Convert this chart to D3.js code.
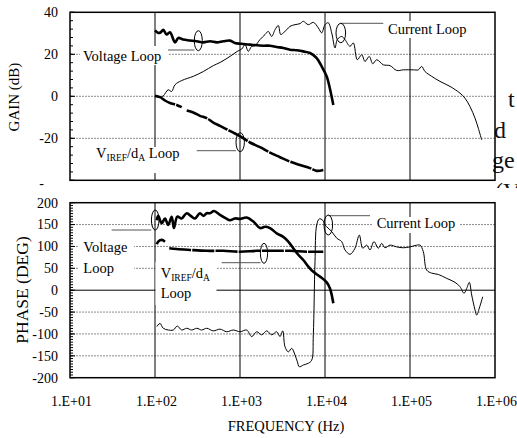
<!DOCTYPE html>
<html>
<head>
<meta charset="utf-8">
<script src="https://cdn.jsdelivr.net/npm/d3@7"></script>
<style>
  body { margin: 0; background: #fff; }
  svg { display: block; font-family: 'Liberation Serif', 'Times New Roman', serif; }
  text { white-space: pre; }
</style>
</head>
<body>
<svg id="chart" width="517" height="438"></svg>
<script>
// axis ticks
const freqTicks = [1e1, 1e2, 1e3, 1e4, 1e5, 1e6];
const freqTickLabels = ['1.E+01', '1.E+02', '1.E+03', '1.E+04', '1.E+05', '1.E+06'];
const gainTicks = [-40, -20, 0, 20, 40];
const gainTickLabels = ['-', '-20', '0', '20', '40'];
const phaseTicks = [-200, -150, -100, -50, 0, 50, 100, 150, 200];
const phaseTickLabels = ['-200', '-150', '-100', '-50', '0', '50', '100', '150', '200'];

// gain (dB)
const voltageGainFreq = [100, 109, 117, 125, 137, 150, 172, 188, 215, 258, 310, 370, 444, 532, 637, 763, 873, 1020, 1312, 1880, 2254, 2703, 3230, 3873, 4645, 5560, 6665, 7985, 9140, 10470, 11450, 12530];
const voltageGain = [31.4, 30.2, 30.5, 31.7, 29.4, 30.5, 25.7, 27.8, 27, 26.6, 26.2, 25.7, 26.2, 25.7, 26.2, 26.5, 25.4, 25, 24.6, 24.1, 24.1, 23.5, 23, 22.2, 21.9, 21.4, 20.6, 18.2, 14.2, 9.5, 3.5, -4.1];

const currentGainFreq = [100, 114.5, 125, 143, 157, 172, 206, 282, 370, 485, 582, 763, 929, 1047, 1145, 1252, 1373, 1502, 1719, 1969, 2152, 2360, 2581, 2822, 3012, 3231, 3543, 3874, 4437, 5081, 5555, 6362, 7286, 8340, 9147, 10000, 10935, 11990, 13115, 13951, 15725, 17190, 19688, 21530, 23988, 27030, 29560, 33200, 36410, 40580, 48530, 58180, 69750, 83400, 109350, 125200, 137300, 150200, 180000, 225400, 295600, 387400, 443700, 508100, 581800, 636200, 697500];
const currentGain = [0, -0.4, 0.2, 3.1, 2.3, 5.5, 7.5, 9.5, 11.8, 14.6, 16.1, 19, 21.4, 22.5, 24.6, 21.4, 23.8, 24.1, 27, 29.4, 30.9, 28.5, 31.7, 33.7, 29.4, 30.2, 31.7, 33.3, 34.1, 34.6, 35.7, 34.1, 35.2, 32.6, 30.2, 34.1, 35, 30.2, 23, 27, 28.5, 27, 23.8, 25.4, 17.4, 19.8, 16.6, 19, 15.5, 17.4, 15, 14.6, 12.3, 12.6, 12.6, 12.6, 14.2, 11.8, 9.5, 7.1, 4.7, 1.5, -0.9, -4.9, -10.4, -15.2, -20.8];

const vrefGainFreq = [100, 114.5, 131, 150, 180, 206, 220, 236, 282, 338, 406, 485, 582, 697, 834, 1019, 1311, 1719, 2254, 2956, 3874, 5081, 6661, 7987, 9550];
const vrefGain = [0.2, -0.4, -2, -3.2, -4.1, -5.2, null, -6.8, -7.7, -9.3, -10.4, -12.5, -14.1, -15.7, -17.3, -19.2, -22, -24.2, -26.8, -29, -31.1, -32.7, -34.2, -35.5, -35.1];

// phase (deg)
const voltagePhaseFreq = [105, 109, 120, 131, 143, 157, 167, 183, 206, 236, 270, 296, 338, 370, 406, 444, 495, 582, 684, 763, 873, 1000, 1199, 1434, 1719, 1969, 2254, 2703, 3231, 3700, 4237, 4852, 5555, 6362, 7286, 8736, 10470, 11450, 12530];
const voltagePhase = [160, 170, 153, 164, 149, 168, 142, 168, 164, 176, 168, 164, 176, 170, 176, 176, 181, 172, 164, 160, 164, 163, 166, 157, 142, 145, 142, 130, 122, 111, 96, 81, 69, 54, 42, 31, 18, 4, -30];

const vrefPhaseFreq = [105, 109, 120, 131, 140, 147, 180, 258, 406, 636, 1000, 1572, 2465, 3874, 6090, 9550];
const vrefPhase = [105, 111, 115, 111, null, 96, 94, 92, 90, 90, 88, 90, 90, 90, 88, 88];

const currentPhaseFreq = [105, 114.5, 125, 143, 164, 183, 206, 236, 270, 310, 354, 406, 485, 582, 697, 834, 1000, 1199, 1373, 1572, 1800, 2062, 2360, 2703, 2956, 3180, 3383, 3700, 4057, 4437, 4722, 4985, 5555, 6362, 6975, 7286, 7627, 7987, 8568, 9395, 10000, 10470, 11990, 13730, 15725, 17190, 19688, 22540, 25320, 27770, 30950, 33830, 37710, 42370, 46470, 50810, 58180, 69750, 83400, 100000, 114500, 131100, 143400, 157200, 180000, 215200, 270300, 338300, 387400, 431900, 464700, 498400, 531900, 581800, 609000, 653600, 716800];
const currentPhase = [-83, -76, -87, -91, -91, -82, -91, -87, -91, -87, -91, -87, -93, -89, -95, -91, -95, -91, -106, -95, -102, -93, -102, -95, -106, -93, -129, -141, -133, -148, -163, -175, -171, -167, -160, -102, 65, 149, 163, 160, 149, 145, 134, 119, 111, 92, 82, 96, 126, 96, 103, 92, 111, 96, 107, 97, 103, 99, 97, 99, 102, 103, 88, 46, 39, 36, 27, 18, 8, -7, 4, 18, -11, -45, -57, -41, -15];

const zip = (f, v) => f.map((d, i) => [d, v[i]]);

const svg = d3.select('#chart');
const W = 517, H = 438;
const left = 70, right = 495;

const x = d3.scaleLog().domain([1e1, 1e6]).range([left, right]);
const yGain = d3.scaleLinear().domain([-40, 40]).range([180.3, 12.3]);
const yPhase = d3.scaleLinear().domain([-200, 200]).range([377.7, 202.7]);

// text of the page lying under the figure
const pageBits = [
    { t: 't', x: 508, y: 107 },
    { t: 'd', x: 494, y: 137.5 },
    { t: 'ge', x: 492, y: 168 },
    { t: '(V', x: 495, y: 198.5 }
];
svg.selectAll('.page').data(pageBits).enter()
    .append('text')
    .classed('page', true)
    .attr('x', d => d.x)
    .attr('y', d => d.y)
    .attr('font-size', 24)
    .attr('fill', '#111')
    .text(d => d.t);

// white sheet of lower chart
svg.append('rect')
    .attr('x', 0).attr('y', 188)
    .attr('width', W).attr('height', H - 188)
    .attr('fill', '#fff');

function drawPanel(y, ticks, labels, minorStep, solidZero) {
    const g = svg.append('g');
    const [y0, y1] = y.range();

    // horizontal grid
    g.selectAll('.hgrid')
        .data(ticks.slice(1, -1)).enter()
        .append('line')
        .attr('x1', left).attr('x2', right)
        .attr('y1', d => y(d)).attr('y2', d => y(d))
        .attr('stroke', d => (solidZero && d === 0) ? '#000' : '#8c8c8c')
        .attr('stroke-width', 1)
        .attr('stroke-dasharray', d => (solidZero && d === 0) ? null : '2,1');

    // decade lines
    g.selectAll('.vgrid')
        .data(freqTicks.slice(1, -1)).enter()
        .append('line')
        .attr('x1', d => x(d)).attr('x2', d => x(d))
        .attr('y1', y1).attr('y2', y0)
        .attr('stroke', '#000')
        .attr('stroke-width', 1);

    // minor ticks on the value axis
    g.selectAll('.minor')
        .data(d3.range(y.domain()[0], y.domain()[1] + 0.01, minorStep)).enter()
        .append('line')
        .attr('x1', left).attr('x2', left + 3)
        .attr('y1', d => y(d)).attr('y2', d => y(d))
        .attr('stroke', '#000');
    g.selectAll('.major')
        .data(ticks).enter()
        .append('line')
        .attr('x1', left).attr('x2', left + 5)
        .attr('y1', d => y(d)).attr('y2', d => y(d))
        .attr('stroke', '#000');

    g.selectAll('.ylab')
        .data(ticks).enter()
        .append('text')
        .attr('x', (d, i) => labels[i] === '-' ? 44 : 58)
        .attr('y', d => y(d))
        .attr('dy', (d, i) => labels[i] === '-' ? '0.55em' : '0.35em')
        .attr('text-anchor', 'end')
        .attr('font-size', 14)
        .text((d, i) => labels[i]);

    return g;
}

function drawSeries(g, y, data, width, dash) {
    const line = d3.line()
        .defined(d => d[1] !== null)
        .x(d => x(d[0]))
        .y(d => y(d[1]))
        .curve(d3.curveCatmullRom.alpha(0.5));
    g.append('path')
        .datum(data)
        .attr('d', line)
        .attr('fill', 'none')
        .attr('stroke', '#000')
        .attr('stroke-width', width)
        .attr('stroke-linejoin', 'round')
        .attr('stroke-dasharray', dash || null);
}

function drawFrame(g, y) {
    const [y0, y1] = y.range();
    g.append('rect')
        .attr('x', left).attr('y', y1)
        .attr('width', right - left).attr('height', y0 - y1)
        .attr('fill', 'none')
        .attr('stroke', '#000')
        .attr('stroke-width', 1.5);
}

// callouts: label box, leader and ring
const V_REF = [['V'], ['IREF', 1], ['/d'], ['A', 1]];
const notes = [
    { lines: [{ x: 83, y: 60.7, parts: [['Voltage Loop']] }], box: [80, 46, 88, 19], leader: [168, 50, 194.5, 50], ring: [198.3, 40.7, 4, 10] },
    { lines: [{ x: 96, y: 158.3, parts: V_REF.concat([[' Loop']]) }], box: [89, 147, 96, 26], leader: [196.7, 150.7, 236, 150.7], ring: [240.2, 142.2, 4.2, 9.5] },
    { lines: [{ x: 388, y: 33.7, parts: [['Current Loop']] }], box: [385, 21, 86, 17], leader: [340.5, 23.3, 383.3, 23.3], ring: [340.8, 33, 4.8, 9.7] },
    { lines: [{ x: 83.3, y: 251.7, parts: [['Voltage']] }, { x: 83.3, y: 273.3, parts: [['Loop']] }], box: [79, 236, 55, 43], leader: [111.7, 230, 151.3, 230], ring: [155.2, 220, 3.8, 10] },
    { lines: [{ x: 160.7, y: 278.3, parts: V_REF }, { x: 160.7, y: 298.3, parts: [['Loop']] }], box: [155.5, 262, 61, 43], leader: [221.7, 262.7, 260.5, 262.7], ring: [264, 253.3, 3.6, 10] },
    { lines: [{ x: 376.7, y: 228.3, parts: [['Current Loop']] }], box: [373, 217, 86, 16], leader: [328.3, 215.7, 370, 215.7], ring: [328.3, 225, 4.3, 10] }
];

function drawNote(n) {
    const g = svg.append('g');
    g.append('rect')
        .attr('x', n.box[0]).attr('y', n.box[1])
        .attr('width', n.box[2]).attr('height', n.box[3])
        .attr('fill', '#fff');
    g.append('line')
        .attr('x1', n.leader[0]).attr('y1', n.leader[1])
        .attr('x2', n.leader[2]).attr('y2', n.leader[3])
        .attr('stroke', '#555')
        .attr('stroke-width', 1);
    g.append('ellipse')
        .attr('cx', n.ring[0]).attr('cy', n.ring[1])
        .attr('rx', n.ring[2]).attr('ry', n.ring[3])
        .attr('fill', 'none')
        .attr('stroke', '#000')
        .attr('stroke-width', 1);
    n.lines.forEach(l => {
        const t = g.append('text')
            .attr('x', l.x).attr('y', l.y)
            .attr('font-size', 14.5);
        let shifted = false;
        l.parts.forEach(p => {
            const s = t.append('tspan').text(p[0]);
            if (p[1]) {
                s.attr('font-size', 9.5).attr('dy', shifted ? 0 : 3);
                shifted = true;
            } else {
                s.attr('dy', shifted ? -3 : 0);
                shifted = false;
            }
        });
    });
}

// gain panel
const gTop = drawPanel(yGain, gainTicks, gainTickLabels, 4, false);
drawSeries(gTop, yGain, zip(currentGainFreq, currentGain), 1);
drawSeries(gTop, yGain, zip(vrefGainFreq, vrefGain), 2.6, '22,1.2');
drawSeries(gTop, yGain, zip(voltageGainFreq, voltageGain), 2.6);
drawFrame(gTop, yGain);

// phase panel
const gBot = drawPanel(yPhase, phaseTicks, phaseTickLabels, 6.25, true);
drawSeries(gBot, yPhase, zip(currentPhaseFreq, currentPhase), 1);
drawSeries(gBot, yPhase, zip(vrefPhaseFreq, vrefPhase), 2.6, '22,1.2');
drawSeries(gBot, yPhase, zip(voltagePhaseFreq, voltagePhase), 2.6);
drawFrame(gBot, yPhase);

notes.forEach(drawNote);

// frequency labels
svg.selectAll('.xlab')
    .data(freqTicks).enter()
    .append('text')
    .attr('x', d => x(d) + 1.5)
    .attr('y', 406)
    .attr('text-anchor', 'middle')
    .attr('font-size', 14)
    .text((d, i) => freqTickLabels[i]);

svg.append('text')
    .attr('x', 286)
    .attr('y', 431)
    .attr('text-anchor', 'middle')
    .attr('font-size', 14.5)
    .text('FREQUENCY (Hz)');

svg.append('text')
    .attr('transform', 'translate(19,97) rotate(-90)')
    .attr('text-anchor', 'middle')
    .attr('font-size', 15)
    .text('GAIN (dB)');

svg.append('text')
    .attr('transform', 'translate(28,290) rotate(-90)')
    .attr('text-anchor', 'middle')
    .attr('font-size', 17.5)
    .text('PHASE (DEG)');
</script>
</body>
</html>
